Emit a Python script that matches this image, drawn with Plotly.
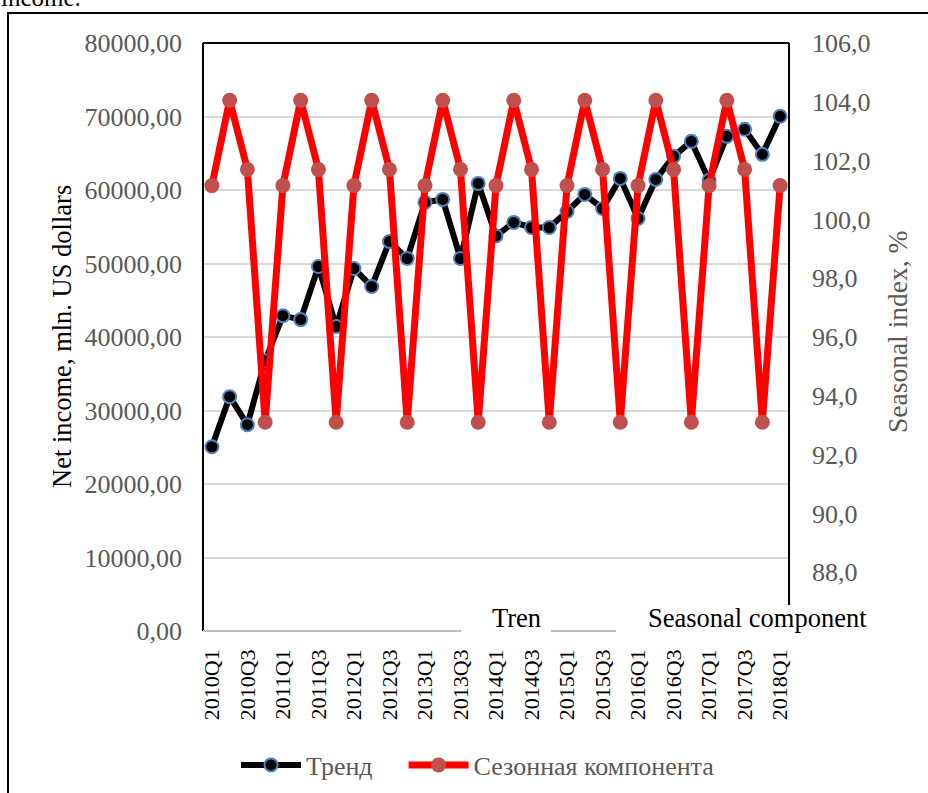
import plotly.graph_objects as go

W, H = 928, 793

quarters = [
    "2010Q1", "2010Q2", "2010Q3", "2010Q4",
    "2011Q1", "2011Q2", "2011Q3", "2011Q4",
    "2012Q1", "2012Q2", "2012Q3", "2012Q4",
    "2013Q1", "2013Q2", "2013Q3", "2013Q4",
    "2014Q1", "2014Q2", "2014Q3", "2014Q4",
    "2015Q1", "2015Q2", "2015Q3", "2015Q4",
    "2016Q1", "2016Q2", "2016Q3", "2016Q4",
    "2017Q1", "2017Q2", "2017Q3", "2017Q4",
    "2018Q1",
]

trend = [
    25070, 31880, 28070, 36780,
    42900, 42370, 49590, 41420,
    49320, 46870, 53000, 50680,
    58310, 58720, 50680, 60900,
    53750, 55590, 54900, 54900,
    57080, 59400, 57490, 61580,
    56130, 61440, 64580, 66620,
    61310, 67300, 68260, 64850,
    70030,
]

seasonal = [
    101.15, 104.05, 101.7, 93.1,
    101.15, 104.05, 101.7, 93.1,
    101.15, 104.05, 101.7, 93.1,
    101.15, 104.05, 101.7, 93.1,
    101.15, 104.05, 101.7, 93.1,
    101.15, 104.05, 101.7, 93.1,
    101.15, 104.05, 101.7, 93.1,
    101.15, 104.05, 101.7, 93.1,
    101.15,
]

x_ticks = quarters[::2]
left_range = [0, 80000]
right_range = [86, 106]
right_ticks = [88, 90, 92, 94, 96, 98, 100, 102, 104, 106]

SERIF = "Liberation Serif, Times New Roman, serif"
GRAY = "#595959"
NBSP = "\u00a0"


def px(x):
    return x / W


def py(y):
    return 1 - y / H


# plot area in pixels
L, R, T, B = 203, 789, 43, 631

fig = go.Figure()

fig.add_trace(go.Scatter(
    x=quarters, y=trend, name="Тренд" + NBSP * 4, mode="lines+markers",
    line=dict(color="black", width=6),
    marker=dict(color="black", size=13, line=dict(color="#4F81BD", width=2)),
    yaxis="y",
))
fig.add_trace(go.Scatter(
    x=quarters, y=seasonal, name="Сезонная компонента", mode="lines+markers",
    line=dict(color="#FF0000", width=7),
    marker=dict(color="#C0504D", size=15),
    yaxis="y2",
))

fig.update_layout(
    width=W, height=H,
    margin=dict(l=0, r=0, t=0, b=0),
    paper_bgcolor="white", plot_bgcolor="white",
    separators=", ",
    font=dict(family=SERIF, size=24, color=GRAY),
    showlegend=True,
    legend=dict(
        orientation="h", x=px(236), xanchor="left", y=py(765), yanchor="middle",
        font=dict(family=SERIF, size=26, color=GRAY),
        itemwidth=60, bgcolor="rgba(0,0,0,0)",
    ),
    xaxis=dict(
        domain=[px(L), px(R)],
        type="category", range=[-0.5, len(quarters) - 0.5],
        tickmode="array", tickvals=x_ticks, ticktext=x_ticks,
        tickangle=-90, tickfont=dict(family=SERIF, size=22, color="black"),
        showgrid=False, showline=False, zeroline=False, ticks="",
        ticklabelstandoff=13,
        automargin=False,
    ),
    yaxis=dict(
        domain=[py(B), py(T)],
        range=left_range, dtick=10000, tickformat=".2f",
        tickfont=dict(family=SERIF, size=26, color=GRAY),
        showgrid=True, gridcolor="#D9D9D9", gridwidth=1.5,
        zeroline=False, showline=False, ticks="", ticklabelstandoff=20,
        automargin=False,
    ),
    yaxis2=dict(
        overlaying="y", side="right",
        range=right_range, tickmode="array", tickvals=right_ticks,
        tickformat=".1f",
        tickfont=dict(family=SERIF, size=26, color=GRAY),
        showgrid=False, zeroline=False, showline=False, ticks="",
        ticklabelstandoff=22,
        automargin=False,
    ),
)

shapes = [
    # outer frame of the chart
    dict(type="rect", xref="paper", yref="paper",
         x0=px(8), x1=px(W + 20), y0=py(H + 20), y1=py(13),
         line=dict(color="black", width=2), layer="below"),
    # plot-area frame
    dict(type="line", xref="paper", yref="paper",
         x0=px(L), x1=px(L), y0=py(B), y1=py(T),
         line=dict(color="black", width=2), layer="above"),
    dict(type="line", xref="paper", yref="paper",
         x0=px(L), x1=px(R), y0=py(T), y1=py(T),
         line=dict(color="black", width=2), layer="above"),
    dict(type="line", xref="paper", yref="paper",
         x0=px(R), x1=px(R), y0=py(B), y1=py(T),
         line=dict(color="black", width=2), layer="above"),
    dict(type="line", xref="paper", yref="paper",
         x0=px(L), x1=px(R), y0=py(B), y1=py(B),
         line=dict(color="#BFBFBF", width=2), layer="above"),
    # white label boxes over the lower edge
    dict(type="rect", xref="paper", yref="paper",
         x0=px(461), x1=px(551), y0=py(641), y1=py(605),
         fillcolor="white", line=dict(width=0), layer="above"),
    dict(type="rect", xref="paper", yref="paper",
         x0=px(616), x1=px(872), y0=py(641), y1=py(605),
         fillcolor="white", line=dict(width=0), layer="above"),
]
fig.update_layout(shapes=shapes)

annotations = [
    dict(text="Net income, mln. US dollars", xref="paper", yref="paper",
         x=px(62), y=py(337), xanchor="center", yanchor="middle",
         textangle=-90, showarrow=False,
         font=dict(family=SERIF, size=26.5, color="black")),
    dict(text="Seasonal index, %", xref="paper", yref="paper",
         x=px(897), y=py(332), xanchor="center", yanchor="middle",
         textangle=-90, showarrow=False,
         font=dict(family=SERIF, size=27.5, color=GRAY)),
    dict(text="Tren", xref="paper", yref="paper",
         x=px(516), y=py(618), xanchor="center", yanchor="middle",
         showarrow=False, font=dict(family=SERIF, size=26.5, color="black")),
    dict(text="Seasonal component", xref="paper", yref="paper",
         x=px(757), y=py(618), xanchor="center", yanchor="middle",
         showarrow=False, font=dict(family=SERIF, size=26.5, color="black")),
    dict(text="income.", xref="paper", yref="paper",
         x=px(-1), y=py(13), xanchor="left", yanchor="bottom",
         showarrow=False, font=dict(family=SERIF, size=25, color="black")),
]
fig.update_layout(annotations=annotations)

fig.write_html("out.html")
